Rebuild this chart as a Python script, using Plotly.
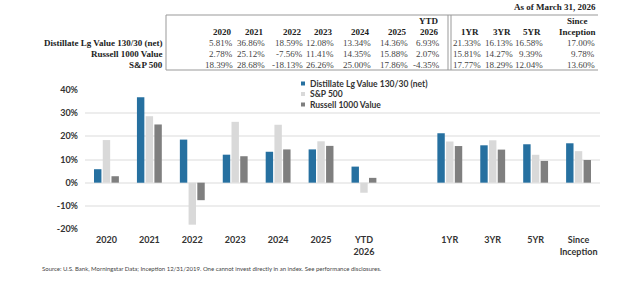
import plotly.graph_objects as go

# ---------------- data ----------------
categories = ["2020", "2021", "2022", "2023", "2024", "2025", "YTD<br>2026", " ",
              "1YR", "3YR", "5YR", "Since<br>Inception"]
distillate = [5.81, 36.86, 18.59, 12.08, 13.34, 14.36, 6.93, None, 21.33, 16.13, 16.58, 17.00]
sp500 = [18.39, 28.68, -18.13, 26.26, 25.00, 17.86, -4.35, None, 17.77, 18.29, 12.04, 13.60]
russell = [2.78, 25.12, -7.56, 11.41, 14.35, 15.88, 2.07, None, 15.81, 14.27, 9.39, 9.78]

series_names = ["Distillate Lg Value 130/30 (net)", "S&P 500", "Russell 1000 Value"]
series_colors = ["#2670A0", "#D9D9D9", "#7F7F7F"]

table_headers_top = ["", "", "", "", "", "", "YTD", "", "", "", "Since"]
table_headers = ["2020", "2021", "2022", "2023", "2024", "2025", "2026", "1YR", "3YR", "5YR", "Inception"]
table_row_names = ["Distillate Lg Value 130/30 (net)", "Russell 1000 Value", "S&P 500"]
table_rows = [
    ["5.81%", "36.86%", "18.59%", "12.08%", "13.34%", "14.36%", "6.93%", "21.33%", "16.13%", "16.58%", "17.00%"],
    ["2.78%", "25.12%", "-7.56%", "11.41%", "14.35%", "15.88%", "2.07%", "15.81%", "14.27%", "9.39%", "9.78%"],
    ["18.39%", "28.68%", "-18.13%", "26.26%", "25.00%", "17.86%", "-4.35%", "17.77%", "18.29%", "12.04%", "13.60%"],
]
y_ticks = [-20, -10, 0, 10, 20, 30, 40]
y_tick_labels = ["-20%", "-10%", "0%", "10%", "20%", "30%", "40%"]

# ---------------- layout geometry (pixels) ----------------
W, H = 640, 284
PL, PR, PT, PB = 85, 600, 90, 229  # plot area in pixels


def xp(px):
    return (px - PL) / (PR - PL)


def yp(py):
    return (PB - py) / (PB - PT)


fig = go.Figure()
for name, vals, col in zip(series_names, [distillate, sp500, russell], series_colors):
    fig.add_trace(go.Bar(x=categories, y=vals, name=name, marker_color=col,
                         marker_line_width=0, showlegend=False))

serif = "Liberation Serif"
sans = "Lato"
annotations = []
shapes = []

# table column positions (right edges of numbers)
col_right = [235, 267, 305, 336, 373, 410, 442, 483, 515, 545, 597]
row_y = [43, 54, 64.5]
for i, r in enumerate(col_right):
    hc = r - 13 if i < len(col_right) - 1 else r - 20
    annotations.append(dict(x=xp(hc), y=yp(32), xref="paper", yref="paper", text=table_headers[i],
                            showarrow=False, xanchor="center", yanchor="middle",
                            font=dict(family=serif, size=9, color="#222", weight="bold")))
    if table_headers_top[i]:
        annotations.append(dict(x=xp(hc), y=yp(21), xref="paper", yref="paper", text=table_headers_top[i],
                                showarrow=False, xanchor="center", yanchor="middle",
                                font=dict(family=serif, size=9, color="#222", weight="bold")))
    for j, row in enumerate(table_rows):
        annotations.append(dict(x=xp(r), y=yp(row_y[j]), xref="paper", yref="paper", text=row[i],
                                showarrow=False, xanchor="right", yanchor="middle",
                                font=dict(family=serif, size=9, color="#444")))
for j, nm in enumerate(table_row_names):
    annotations.append(dict(x=xp(165), y=yp(row_y[j]), xref="paper", yref="paper", text=nm,
                            showarrow=False, xanchor="right", yanchor="middle",
                            font=dict(family=serif, size=9, color="#222", weight="bold")))
annotations.append(dict(x=xp(598), y=yp(7), xref="paper", yref="paper", text="As of March 31, 2026",
                        showarrow=False, xanchor="right", yanchor="middle",
                        font=dict(family=serif, size=9, color="#222", weight="bold")))

line_style = dict(color="#999999", width=1)
for (x0, y0, x1, y1) in [(166, 15, 598, 15), (166, 70, 598, 70), (166, 15, 166, 70),
                         (448, 15, 448, 70), (451, 15, 451, 70)]:
    shapes.append(dict(type="line", xref="paper", yref="paper", x0=xp(x0), y0=yp(y0),
                       x1=xp(x1), y1=yp(y1), line=line_style))

# legend (manual)
legend_y = [83.5, 94, 104.5]
for nm, col, ly in zip(series_names, series_colors, legend_y):
    shapes.append(dict(type="rect", xref="paper", yref="paper", x0=xp(301), x1=xp(305),
                       y0=yp(ly - 2), y1=yp(ly + 2), fillcolor=col, line_width=0))
    annotations.append(dict(x=xp(308), y=yp(ly), xref="paper", yref="paper", text=nm,
                            showarrow=False, xanchor="left", yanchor="middle",
                            font=dict(family=sans, size=8.5, color="#333", weight="bold")))

# footnote
annotations.append(dict(x=xp(40), y=yp(268), xref="paper", yref="paper",
                        text="Source: U.S. Bank, Morningstar Data; Inception 12/31/2019. One cannot invest directly in an index. See performance disclosures.",
                        showarrow=False, xanchor="left", yanchor="middle",
                        font=dict(family=sans, size=6, color="#444")))

fig.update_layout(
    width=W, height=H,
    margin=dict(l=PL, r=W - PR, t=PT, b=H - PB, pad=0),
    paper_bgcolor="white", plot_bgcolor="white",
    barmode="group", bargap=0.39, bargroupgap=0.15,
    annotations=annotations, shapes=shapes,
    font=dict(family=sans),
)
fig.update_xaxes(type="category", categoryorder="array", categoryarray=categories,
                 showgrid=False, showline=False, zeroline=False, ticks="",
                 ticklabelstandoff=4,
                 tickfont=dict(family=sans, size=9, color="#333", weight="bold"))
fig.update_yaxes(range=[-20, 40], tickvals=y_ticks, ticktext=y_tick_labels,
                 showgrid=True, gridcolor="#EDEDED", gridwidth=1.5,
                 zeroline=True, zerolinecolor="#EDEDED", zerolinewidth=1.5,
                 showline=False, ticks="", ticklabelstandoff=6,
                 tickfont=dict(family=sans, size=9, color="#333", weight="bold"))

fig.write_html("out.html")
